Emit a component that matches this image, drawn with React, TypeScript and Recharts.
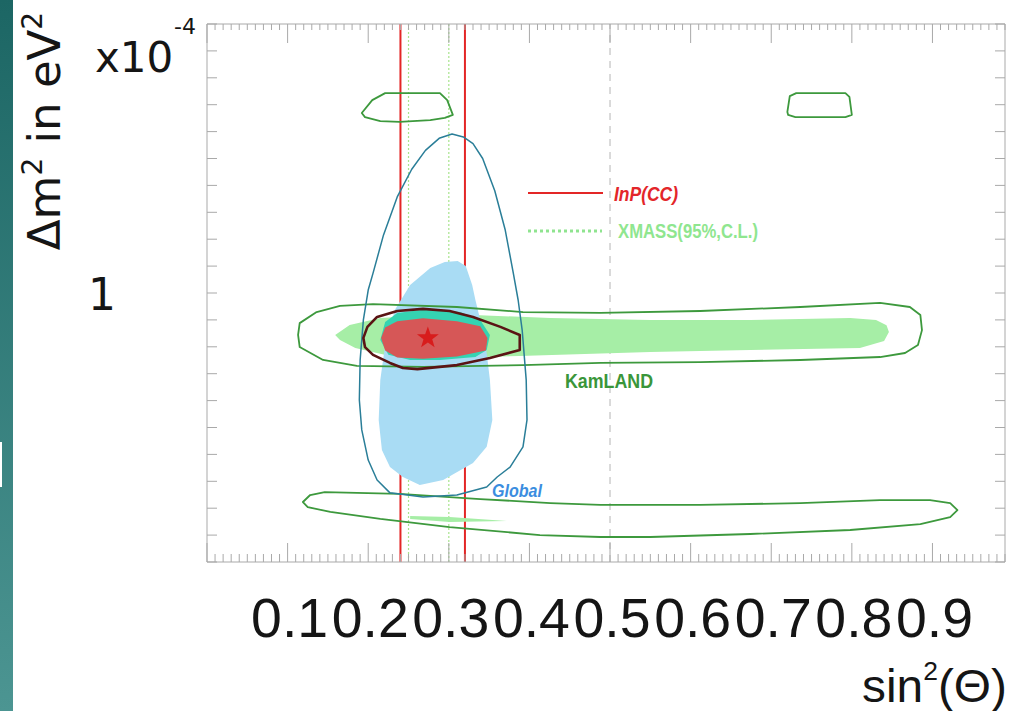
import React from 'react';
import { ComposedChart, XAxis, YAxis, Scatter, ReferenceLine } from 'recharts';

type P = [number, number];

// ---- data (x = sin^2(theta), y = delta m^2 in 1e-4 eV^2) ----
const KAMLAND_ISLAND_LEFT: P[] = [
  [0.192, 1.669], [0.205, 1.717], [0.221, 1.743], [0.289, 1.743], [0.298, 1.717], [0.305, 1.662],
  [0.295, 1.651], [0.277, 1.643], [0.239, 1.636], [0.215, 1.639], [0.196, 1.654],
];
const KAMLAND_ISLAND_RIGHT: P[] = [
  [0.72, 1.673], [0.723, 1.732], [0.731, 1.743], [0.792, 1.743], [0.797, 1.729], [0.8, 1.662],
  [0.792, 1.654], [0.73, 1.654], [0.721, 1.662],
];
const GLOBAL_OUTLINE: P[] = [
  [0.304, 1.591], [0.318, 1.58], [0.33, 1.555], [0.342, 1.5], [0.357, 1.38], [0.37, 1.234], [0.38, 1.074],
  [0.386, 0.974], [0.391, 0.862], [0.396, 0.677], [0.397, 0.528], [0.392, 0.428], [0.376, 0.353],
  [0.36, 0.316], [0.347, 0.279], [0.31, 0.249], [0.268, 0.242], [0.227, 0.257], [0.211, 0.305],
  [0.2, 0.379], [0.192, 0.491], [0.189, 0.602], [0.19, 0.751], [0.194, 0.9], [0.2, 1.011],
  [0.206, 1.074], [0.219, 1.216], [0.236, 1.357], [0.254, 1.46], [0.271, 1.53], [0.288, 1.575],
];
const GLOBAL_FILL: P[] = [
  [0.311, 1.119], [0.321, 1.1], [0.329, 1.03], [0.333, 0.974], [0.345, 0.825], [0.351, 0.677],
  [0.354, 0.528], [0.347, 0.428], [0.33, 0.368], [0.293, 0.305], [0.264, 0.286], [0.243, 0.316],
  [0.227, 0.353], [0.217, 0.416], [0.213, 0.528], [0.215, 0.677], [0.221, 0.807], [0.233, 0.937],
  [0.252, 1.03], [0.277, 1.093], [0.295, 1.115],
];
const KAMLAND_OUTLINE: P[] = [
  [0.113, 0.844], [0.115, 0.888], [0.136, 0.929], [0.165, 0.952], [0.206, 0.959], [0.31, 0.948],
  [0.392, 0.929], [0.488, 0.926], [0.612, 0.933], [0.736, 0.948], [0.835, 0.963], [0.872, 0.948],
  [0.885, 0.918], [0.887, 0.862], [0.882, 0.807], [0.866, 0.777], [0.835, 0.762], [0.736, 0.751],
  [0.612, 0.743], [0.488, 0.74], [0.392, 0.732], [0.268, 0.725], [0.186, 0.729], [0.144, 0.751],
  [0.115, 0.799],
];
const KAMLAND_FILL: P[] = [
  [0.159, 0.844], [0.177, 0.881], [0.215, 0.907], [0.301, 0.922], [0.426, 0.907], [0.55, 0.9],
  [0.674, 0.9], [0.798, 0.907], [0.83, 0.9], [0.843, 0.88], [0.846, 0.855], [0.84, 0.822], [0.81, 0.796],
  [0.674, 0.788], [0.55, 0.781], [0.438, 0.77], [0.388, 0.766], [0.301, 0.758], [0.227, 0.766],
  [0.184, 0.796], [0.165, 0.825],
];
const OVERLAP_FILL: P[] = [
  [0.215, 0.825], [0.221, 0.892], [0.236, 0.926], [0.277, 0.941], [0.314, 0.929], [0.339, 0.9],
  [0.351, 0.844], [0.347, 0.788], [0.333, 0.762], [0.289, 0.751], [0.252, 0.751], [0.225, 0.77],
];
const COMBINED_FILL: P[] = [
  [0.216, 0.833], [0.221, 0.872], [0.236, 0.895], [0.268, 0.906], [0.31, 0.895], [0.339, 0.876],
  [0.348, 0.833], [0.346, 0.786], [0.31, 0.764], [0.268, 0.756], [0.236, 0.76], [0.221, 0.786],
];
const COMBINED_OUTLINE: P[] = [
  [0.194, 0.833], [0.199, 0.874], [0.211, 0.911], [0.236, 0.933], [0.268, 0.941], [0.301, 0.933],
  [0.33, 0.911], [0.364, 0.874], [0.388, 0.844], [0.388, 0.788], [0.351, 0.758], [0.31, 0.732],
  [0.261, 0.717], [0.243, 0.721], [0.227, 0.74], [0.206, 0.77], [0.196, 0.799],
];
const KAMLAND_LOW_OUTLINE: P[] = [
  [0.119, 0.223], [0.128, 0.249], [0.146, 0.26], [0.239, 0.253], [0.339, 0.234], [0.426, 0.219],
  [0.488, 0.212], [0.612, 0.212], [0.736, 0.219], [0.835, 0.23], [0.897, 0.23], [0.922, 0.219],
  [0.931, 0.193], [0.922, 0.167], [0.885, 0.141], [0.798, 0.119], [0.674, 0.104], [0.55, 0.093],
  [0.488, 0.093], [0.413, 0.1], [0.301, 0.13], [0.215, 0.16], [0.153, 0.186], [0.125, 0.204],
];
const KAMLAND_LOW_FILL: P[] = [
  [0.252, 0.171], [0.301, 0.167], [0.372, 0.152], [0.301, 0.149], [0.252, 0.16],
];
const BEST_FIT: P[] = [[0.274, 0.833]];

const INP_LINES = [0.24, 0.32];
const XMASS_LINES = [0.25, 0.3];
const MAXIMAL_MIXING = 0.5;

const X_TICKS = Array.from({ length: 100 }, (_, i) => i / 100);
const X_LABELS = ['0.1', '0.2', '0.3', '0.4', '0.5', '0.6', '0.7', '0.8', '0.9'];
const Y_TICKS = Array.from({ length: 21 }, (_, i) => i / 10);
const Y_LABELS = ['1'];

const X_DOMAIN: [number, number] = [0, 0.99];
const Y_DOMAIN: [number, number] = [0, 2];

const GRID = '#a9a9a9';

const toData = (pts: P[]) => pts.map(([x, y]) => ({ x, y }));
const NoShape = () => <g />;

const poly = (key: string, pts: P[], fill: string, stroke: string, sw = 1) => (
  <Scatter
    key={key}
    xAxisId="main"
    yAxisId="main"
    data={toData(pts)}
    isAnimationActive={false}
    shape={NoShape}
    lineType="joint"
    lineJointType="linearClosed"
    line={{ fill, stroke, strokeWidth: sw, strokeLinejoin: 'round' } as any}
  />
);

const Star = (p: any) => {
  const { cx, cy } = p;
  const R = 11.5;
  const r = 4.6;
  const pts: string[] = [];
  for (let i = 0; i < 10; i++) {
    const a = -Math.PI / 2 + (i * Math.PI) / 5;
    const rr = i % 2 === 0 ? R : r;
    pts.push(`${cx + rr * Math.cos(a)},${cy + rr * Math.sin(a)}`);
  }
  return <polygon points={pts.join(' ')} fill="#d81c1c" />;
};

const isMajor = (v: number) => Math.round(v * 100) % 10 === 0;

const BottomTick = (p: any) => {
  const v = Number(p.payload.value);
  const major = isMajor(v);
  const lab = v.toFixed(1);
  const showLab = major && X_LABELS.includes(lab);
  return (
    <g>
      <line x1={p.x} y1={p.y} x2={p.x} y2={p.y - (major ? 19 : 8)} stroke={GRID} strokeWidth={1} />
      {showLab && (
        <text x={p.x + 2} y={p.y + 75} textAnchor="middle" fontFamily="'Liberation Sans', Arial, sans-serif" fontSize={56}
          textLength={77} lengthAdjust="spacingAndGlyphs" fill="#151515">{lab}</text>
      )}
    </g>
  );
};

const TopTick = (p: any) => {
  const v = Number(p.payload.value);
  const major = isMajor(v);
  return <line x1={p.x} y1={p.y} x2={p.x} y2={p.y + (major ? 19 : 6)} stroke={GRID} strokeWidth={1} />;
};

const LeftTick = (p: any) => {
  const v = Number(p.payload.value);
  const lab = String(Math.round(v * 10) / 10);
  return (
    <g>
      <line x1={p.x} y1={p.y} x2={p.x + 10} y2={p.y} stroke={GRID} strokeWidth={1} />
      {Y_LABELS.includes(lab) && (
        <text x={p.x - 105} y={p.y + 17} textAnchor="middle" fontFamily="'DejaVu Sans', sans-serif" fontSize={44} fill="#151515">{lab}</text>
      )}
    </g>
  );
};

const RightTick = (p: any) => <line x1={p.x} y1={p.y} x2={p.x - 10} y2={p.y} stroke={GRID} strokeWidth={1} />;

export default function App() {
  return (
    <div style={{ position: 'absolute', left: 0, top: 0, width: 1016, height: 711, background: '#fff', overflow: 'hidden' }}>
      <div style={{ position: 'absolute', left: 0, top: 0, width: 13, height: 711, background: 'linear-gradient(#1c6664, #4c9592)' }} />
      <div style={{ position: 'absolute', left: 0, top: 442, width: 2, height: 45, background: '#fff' }} />
      <ComposedChart width={1016} height={711} margin={{ top: 0, right: 0, bottom: 0, left: 0 }} style={{ position: 'absolute', left: 0, top: 0 }}>
        <XAxis xAxisId="main" type="number" dataKey="x" domain={X_DOMAIN} allowDataOverflow orientation="bottom" height={149}
          ticks={X_TICKS} interval={0} tick={(p: any) => <BottomTick {...p} />} tickSize={0} tickMargin={0} tickLine={false}
          axisLine={{ stroke: GRID }} />
        <XAxis xAxisId="top" type="number" dataKey="x" domain={X_DOMAIN} allowDataOverflow orientation="top" height={24}
          ticks={X_TICKS} interval={0} tick={(p: any) => <TopTick {...p} />} tickSize={0} tickMargin={0} tickLine={false}
          axisLine={{ stroke: GRID }} />
        <YAxis yAxisId="main" type="number" dataKey="y" domain={Y_DOMAIN} allowDataOverflow orientation="left" width={207}
          ticks={Y_TICKS} interval={0} tick={(p: any) => <LeftTick {...p} />} tickSize={0} tickMargin={0} tickLine={false}
          axisLine={{ stroke: GRID }} />
        <YAxis yAxisId="right" type="number" dataKey="y" domain={Y_DOMAIN} allowDataOverflow orientation="right" width={11}
          ticks={Y_TICKS} interval={0} tick={(p: any) => <RightTick {...p} />} tickSize={0} tickMargin={0} tickLine={false}
          axisLine={{ stroke: GRID }} />

        {poly('klfill', KAMLAND_FILL, '#a6eea6', 'none')}
        {poly('glfill', GLOBAL_FILL, '#a9dcf4', 'none')}
        {poly('ovfill', OVERLAP_FILL, '#35d3b2', 'none')}
        {poly('cbfill', COMBINED_FILL, '#d65757', 'none')}
        {poly('lowfill', KAMLAND_LOW_FILL, '#a6eea6', 'none')}

        <ReferenceLine xAxisId="main" yAxisId="main" x={MAXIMAL_MIXING} stroke="#b5b5b5" strokeWidth={1} strokeDasharray="7 6" />

        {poly('kl', KAMLAND_OUTLINE, 'none', '#3d993d', 1.8)}
        {poly('kllow', KAMLAND_LOW_OUTLINE, 'none', '#3d993d', 1.8)}
        {poly('isl1', KAMLAND_ISLAND_LEFT, 'none', '#3d993d', 1.8)}
        {poly('isl2', KAMLAND_ISLAND_RIGHT, 'none', '#3d993d', 1.8)}
        {poly('gl', GLOBAL_OUTLINE, 'none', '#2a7e98', 1.5)}
        {poly('cb', COMBINED_OUTLINE, 'none', '#5a1414', 2.6)}

        {XMASS_LINES.map((v) => (
          <ReferenceLine key={`xm${v}`} xAxisId="main" yAxisId="main" x={v} stroke="#a8e48c" strokeWidth={1.2} strokeDasharray="2 2" />
        ))}
        {INP_LINES.map((v) => (
          <ReferenceLine key={`inp${v}`} xAxisId="main" yAxisId="main" x={v} stroke="#e32626" strokeWidth={2} />
        ))}

        <Scatter xAxisId="main" yAxisId="main" data={toData(BEST_FIT)} isAnimationActive={false} shape={Star} />
      </ComposedChart>

      <svg width={1016} height={711} style={{ position: 'absolute', left: 0, top: 0, pointerEvents: 'none' }}>
        <text x={95} y={72} fontFamily="'DejaVu Sans', sans-serif" fontSize={42} fill="#151515">x10</text>
        <text x={174} y={34} fontFamily="'DejaVu Sans', sans-serif" fontSize={22} fill="#151515">-4</text>
        <text transform="rotate(-90 60 131)" x={60} y={131} textAnchor="middle" fontFamily="'DejaVu Sans', sans-serif" fontSize={45} fill="#151515">
          Δm<tspan dy={-18} fontSize={28}>2</tspan><tspan dy={18}> in eV</tspan><tspan dy={-18} fontSize={28}>2</tspan>
        </text>
        <text x={862} y={702} fontFamily="'Liberation Sans', Arial, sans-serif" fontSize={47} fill="#151515" textLength={145} lengthAdjust="spacingAndGlyphs">
          sin<tspan dy={-22} fontSize={26}>2</tspan><tspan dy={22}>(Θ)</tspan>
        </text>

        <line x1={528} y1={193} x2={603} y2={193} stroke="#e32626" strokeWidth={2} />
        <text x={614} y={201} fontFamily="'Liberation Sans', Arial, sans-serif" fontWeight="bold" fontStyle="italic" fontSize={20} fill="#e3262a" textLength={64} lengthAdjust="spacingAndGlyphs">InP(CC)</text>
        <line x1={528} y1={231} x2={602} y2={231} stroke="#8fe48f" strokeWidth={3} strokeDasharray="3 3" />
        <text x={618} y={238} fontFamily="'Liberation Sans', Arial, sans-serif" fontWeight="bold" fontSize={20} fill="#8fe68f" textLength={140} lengthAdjust="spacingAndGlyphs">XMASS(95%,C.L.)</text>
        <text x={565} y={388} fontFamily="'Liberation Sans', Arial, sans-serif" fontWeight="bold" fontSize={20} fill="#3a963a" textLength={88} lengthAdjust="spacingAndGlyphs">KamLAND</text>
        <text x={492} y={497} fontFamily="'Liberation Sans', Arial, sans-serif" fontWeight="bold" fontStyle="italic" fontSize={18} fill="#3b8de0" textLength={50} lengthAdjust="spacingAndGlyphs">Global</text>
      </svg>
    </div>
  );
}
